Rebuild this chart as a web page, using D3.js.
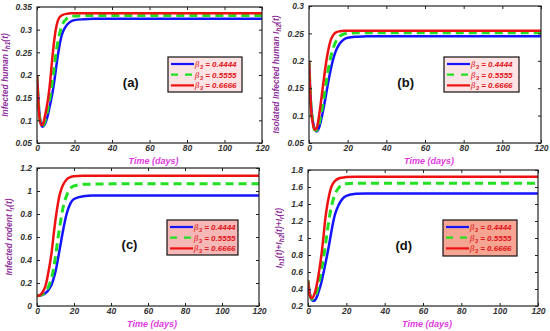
<!DOCTYPE html>
<html><head><meta charset="utf-8">
<script src="https://cdn.jsdelivr.net/npm/d3@7"></script>
<style>body{margin:0;background:#fff}svg{display:block}</style>
</head><body>
<svg id="c" width="550" height="331"></svg>
<script>
const days = [0,1,2,3,4,5,6,7,8,9,10,11,12,13,14,16,18,20,25,30,40,60,80,100,120];
const betaLabels = ["0.4444","0.5555","0.6666"];
const xTicks = [0,20,40,60,80,100,120];

// Panel (a) I_h1
const aBlue  = [0.2,0.128,0.095,0.086,0.09,0.1,0.115,0.135,0.155,0.18,0.21,0.24,0.265,0.285,0.297,0.311,0.318,0.321,0.323,0.324,0.324,0.324,0.324,0.324,0.324];
const aGreen = [0.2,0.125,0.092,0.088,0.095,0.11,0.13,0.152,0.18,0.21,0.245,0.27,0.29,0.305,0.315,0.325,0.329,0.33,0.331,0.331,0.331,0.331,0.331,0.331,0.331];
const aRed   = [0.2,0.12,0.09,0.09,0.105,0.125,0.15,0.185,0.23,0.27,0.30,0.318,0.327,0.331,0.333,0.335,0.336,0.336,0.336,0.336,0.336,0.336,0.336,0.336,0.336];
const aTicks = [0.05,0.1,0.15,0.2,0.25,0.3,0.35];
// Panel (b) I_h2
const bBlue  = [0.2,0.122,0.09,0.075,0.071,0.076,0.088,0.104,0.122,0.142,0.162,0.18,0.196,0.209,0.219,0.232,0.239,0.242,0.244,0.245,0.245,0.245,0.245,0.245,0.245];
const bGreen = [0.2,0.12,0.088,0.074,0.073,0.082,0.098,0.117,0.14,0.163,0.185,0.203,0.217,0.228,0.236,0.245,0.249,0.25,0.251,0.251,0.251,0.251,0.251,0.251,0.251];
const bRed   = [0.2,0.115,0.085,0.074,0.077,0.095,0.12,0.148,0.175,0.2,0.22,0.235,0.244,0.249,0.252,0.254,0.255,0.255,0.255,0.255,0.255,0.255,0.255,0.255,0.255];
const bTicks = [0.05,0.1,0.15,0.2,0.25,0.3];
// Panel (c) I_r
const cBlue  = [0.09,0.09,0.092,0.097,0.105,0.118,0.135,0.16,0.19,0.24,0.3,0.38,0.47,0.56,0.65,0.8,0.89,0.93,0.955,0.96,0.96,0.96,0.96,0.96,0.96];
const cGreen = [0.09,0.09,0.095,0.1,0.115,0.135,0.16,0.2,0.25,0.33,0.43,0.55,0.66,0.76,0.85,0.96,1.02,1.045,1.058,1.06,1.062,1.062,1.062,1.062,1.062];
const cRed   = [0.09,0.09,0.1,0.12,0.15,0.2,0.28,0.37,0.48,0.62,0.75,0.86,0.95,1.01,1.05,1.1,1.12,1.128,1.132,1.133,1.133,1.133,1.133,1.133,1.133];
const cTicks = [0,0.2,0.4,0.6,0.8,1,1.2];
// Panel (d) total
const dBlue  = [0.5,0.34,0.27,0.26,0.28,0.33,0.4,0.48,0.58,0.69,0.8,0.92,1.05,1.17,1.27,1.39,1.46,1.495,1.52,1.525,1.525,1.525,1.525,1.525,1.525];
const dGreen = [0.5,0.33,0.28,0.29,0.33,0.4,0.5,0.62,0.75,0.9,1.07,1.22,1.35,1.44,1.51,1.59,1.625,1.638,1.645,1.645,1.645,1.645,1.645,1.645,1.645];
const dRed   = [0.5,0.32,0.29,0.32,0.39,0.5,0.64,0.8,1.0,1.22,1.38,1.5,1.59,1.64,1.67,1.7,1.71,1.717,1.72,1.72,1.72,1.72,1.72,1.72,1.72];
const dTicks = [0.2,0.4,0.6,0.8,1,1.2,1.4,1.6,1.8];

const colors = ["#1414ff","#22e022","#ee1111"];
const svg = d3.select("#c");

const panels = [
  {id:"(a)", series:[aBlue,aGreen,aRed], ticks:aTicks, fmt:d=>String(d), x0:37,x1:262,y0:7,y1:143, ylab:[["Infected human I"],["h1","sub"],["(t)"]], ylx:8, leg:[168,57,74,35], legFill:"#fde3e3"},
  {id:"(b)", series:[bBlue,bGreen,bRed], ticks:bTicks, fmt:d=>String(d), x0:309,x1:541,y0:6,y1:143, ylab:[["Isolated Infected human I"],["h2","sub"],["(t)"]], ylx:279, leg:[444,57,75,35], legFill:"#fde3e3"},
  {id:"(c)", series:[cBlue,cGreen,cRed], ticks:cTicks, fmt:d=>String(d), x0:37,x1:259,y0:168,y1:306, ylab:[["Infected rodent I"],["r","sub"],["(t)"]], ylx:12, leg:[167,220,71,35], legFill:"#f6b8b6"},
  {id:"(d)", series:[dBlue,dGreen,dRed], ticks:dTicks, fmt:d=>String(d), x0:308,x1:538,y0:170,y1:306, ylab:[["I"],["h1","sub"],["(t)+I"],["h2","sub"],["(t)+I"],["r","sub"],["(t)"]], ylx:282, leg:[443,220,74,36], legFill:"#f5a592"}
];

panels.forEach(p => {
  const g = svg.append("g");
  const x = d3.scaleLinear().domain([0,120]).range([p.x0,p.x1]);
  const y = d3.scaleLinear().domain([p.ticks[0], p.ticks[p.ticks.length-1]]).range([p.y1,p.y0]);

  const clipId = "clip"+p.id.replace(/[()]/g,"");
  svg.append("clipPath").attr("id",clipId).append("rect")
    .attr("x",p.x0).attr("y",p.y0-2).attr("width",p.x1-p.x0).attr("height",p.y1-p.y0+2);
  const line = d3.line().x((d,i)=>x(days[i])).y(d=>y(d)).curve(d3.curveMonotoneX);
  const lg = g.append("g").attr("clip-path",`url(#${clipId})`);
  p.series.forEach((s,k) => {
    lg.append("path").attr("d",line(s)).attr("fill","none")
      .attr("stroke",colors[k]).attr("stroke-width",k===1?3:2.5)
      .attr("stroke-dasharray",k===1?"8,5":null);
  });

  g.append("rect").attr("x",p.x0).attr("y",p.y0).attr("width",p.x1-p.x0).attr("height",p.y1-p.y0)
    .attr("fill","none").attr("stroke","#222").attr("stroke-width",1.2);

  const xb = g.append("g").attr("transform",`translate(0,${p.y1})`)
    .call(d3.axisBottom(x).tickValues(xTicks).tickSizeInner(-3).tickSizeOuter(0).tickPadding(2));
  const xt = g.append("g").attr("transform",`translate(0,${p.y0})`)
    .call(d3.axisTop(x).tickValues(xTicks).tickSizeInner(-3).tickSizeOuter(0).tickFormat(""));
  const yl = g.append("g").attr("transform",`translate(${p.x0},0)`)
    .call(d3.axisLeft(y).tickValues(p.ticks).tickFormat(p.fmt).tickSizeInner(-3).tickSizeOuter(0).tickPadding(5));
  const yr = g.append("g").attr("transform",`translate(${p.x1},0)`)
    .call(d3.axisRight(y).tickValues(p.ticks).tickSizeInner(-3).tickSizeOuter(0).tickFormat(""));
  [xb,xt,yl,yr].forEach(a => {
    a.select(".domain").remove();
    a.selectAll("line").attr("stroke","#222");
    a.selectAll("text").attr("font-family","Liberation Sans, Arial, sans-serif")
      .attr("font-size",8.5).attr("font-weight","bold").attr("font-style","italic").attr("fill","#333");
  });

  g.append("text").attr("x",(p.x0+p.x1)/2+4).attr("y",p.y1+21)
    .attr("text-anchor","middle").attr("font-family","Liberation Sans, Arial, sans-serif")
    .attr("font-size",9).attr("font-weight","bold").attr("font-style","italic").attr("fill","#e03ae0")
    .text("Time (days)");

  const yt = g.append("text").attr("transform",`translate(${p.ylx},${(p.y0+p.y1)/2}) rotate(-90)`)
    .attr("text-anchor","middle").attr("font-family","Liberation Sans, Arial, sans-serif")
    .attr("font-size",8.5).attr("font-weight","bold").attr("font-style","italic").attr("fill","#8e2f9b")
    .attr("dy","0.35em");
  p.ylab.forEach(part => {
    const ts = yt.append("tspan").text(part[0]);
    if (part[1]==="sub") ts.attr("font-size",6.5).attr("dy",2);
    else ts.attr("dy", yt.selectAll("tspan").size()>1 ? -2 : 0);
  });

  g.append("text").attr("x",x(50)).attr("y",(p.y0+p.y1)/2+12)
    .attr("text-anchor","middle").attr("font-family","Liberation Sans, Arial, sans-serif")
    .attr("font-size",13).attr("font-weight","bold").attr("fill","#111").text(p.id);

  const [lx,ly,lw,lh] = p.leg;
  const L = g.append("g");
  L.append("rect").attr("x",lx).attr("y",ly).attr("width",lw).attr("height",lh)
    .attr("fill",p.legFill).attr("stroke","#111").attr("stroke-width",1.2);
  betaLabels.forEach((b,k) => {
    const yy = ly + 7 + k*10.7;
    L.append("line").attr("x1",lx+3).attr("x2",lx+26).attr("y1",yy).attr("y2",yy)
      .attr("stroke",colors[k]).attr("stroke-width",2.2).attr("stroke-dasharray",k===1?"7,7":null);
    const t = L.append("text").attr("x",lx+27).attr("y",yy+3)
      .attr("font-family","Liberation Sans, Arial, sans-serif").attr("font-size",8)
      .attr("font-weight","bold").attr("font-style","italic").attr("fill","#e0141a");
    t.append("tspan").attr("font-family","DejaVu Serif, serif").attr("font-weight","normal").text("β");
    t.append("tspan").attr("font-size",6).attr("dy",2).text("3");
    t.append("tspan").attr("dy",-2).text(" = " + b);
  });
});
</script>
</body></html>
